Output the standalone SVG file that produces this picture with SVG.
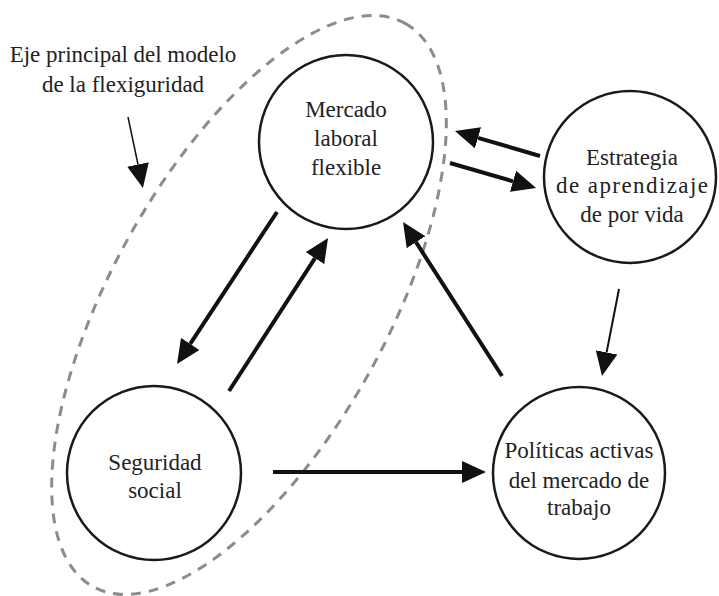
<svg xmlns="http://www.w3.org/2000/svg" width="719" height="596" viewBox="0 0 719 596">
<defs>
<style>
.node{fill:#fff;stroke:#1a1a1a;stroke-width:2.5}
.lbl{font-family:'Liberation Serif','Times New Roman',serif;font-size:23px;fill:#222;text-anchor:middle}
.arr{stroke:#111;stroke-width:4;fill:none;marker-end:url(#head)}
.thin{stroke:#111;stroke-width:2;fill:none;marker-end:url(#head)}
.ptr{stroke:#111;stroke-width:1.5;fill:none;marker-end:url(#head)}
.group{fill:none;stroke:#8c8c8c;stroke-width:3;stroke-dasharray:10 8}
</style>
<marker id="head" markerUnits="userSpaceOnUse" markerWidth="24" markerHeight="22" refX="0" refY="11" orient="auto" viewBox="0 0 24 22">
<path d="M0,0 L24,11 L0,22 z" fill="#111"/>
</marker>
</defs>
<rect width="719" height="596" fill="#fff"/>
<g id="grouping">
<ellipse class="group" cx="249" cy="305" rx="322" ry="138" transform="rotate(-61 249 305)"/>
<text class="lbl" x="123" y="62">Eje principal del modelo</text>
<text class="lbl" x="123" y="92">de la flexiguridad</text>
</g>
<g id="connectors">
<line class="ptr" x1="128" y1="117" x2="138" y2="164.5"/>
<line class="arr" x1="277" y1="212" x2="190.2" y2="343.9"/>
<line class="arr" x1="229" y1="391" x2="315" y2="258.2"/>
<line class="arr" x1="502" y1="376" x2="416" y2="242.2"/>
<line class="arr" x1="540" y1="156" x2="478" y2="137.8"/>
<line class="arr" x1="450" y1="163" x2="513" y2="181.3"/>
<line class="thin" x1="619" y1="289" x2="606.6" y2="352.4"/>
<line class="arr" x1="273" y1="472" x2="462" y2="472"/>
</g>
<g id="mercado">
<circle class="node" cx="346" cy="142" r="87"/>
<text class="lbl" x="346" y="117">Mercado</text>
<text class="lbl" x="346" y="146">laboral</text>
<text class="lbl" x="346" y="175">flexible</text>
</g>
<g id="estrategia">
<circle class="node" cx="630" cy="177" r="86"/>
<text class="lbl" x="632" y="165">Estrategia</text>
<text class="lbl" x="632" y="193" textLength="152" lengthAdjust="spacing">de aprendizaje</text>
<text class="lbl" x="632" y="222">de por vida</text>
</g>
<g id="seguridad">
<circle class="node" cx="154" cy="473" r="87"/>
<text class="lbl" x="155" y="470">Seguridad</text>
<text class="lbl" x="155" y="498">social</text>
</g>
<g id="politicas">
<circle class="node" cx="579" cy="473" r="86"/>
<text class="lbl" x="579" y="458">Políticas activas</text>
<text class="lbl" x="579" y="488">del mercado de</text>
<text class="lbl" x="579" y="515">trabajo</text>
</g>
</svg>
